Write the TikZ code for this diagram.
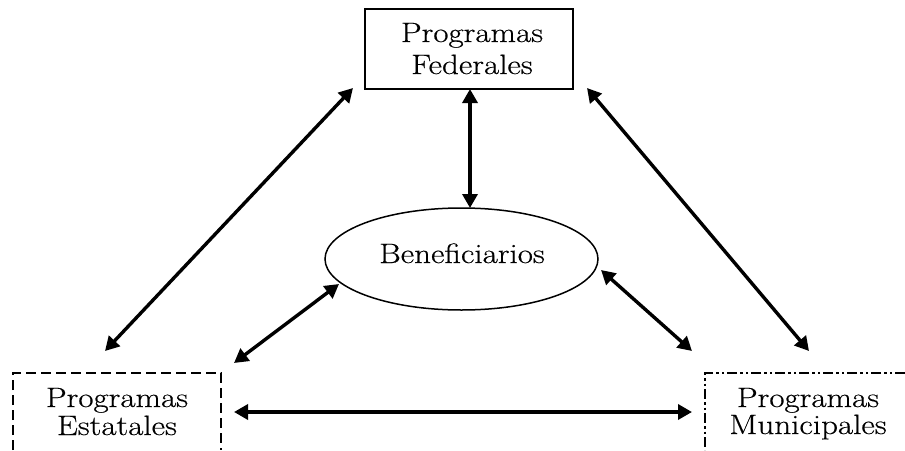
\documentclass[tikz,border=0pt]{standalone}
\usepackage{fontspec}
\setmainfont{Latin Modern Roman}[FakeStretch=1.18,FakeBold=0.4]
\usetikzlibrary{arrows.meta,shapes.geometric}
\begin{document}
\begin{tikzpicture}[x=1pt,y=-1pt,
  lbl/.style={font=\fontsize{28}{30}\selectfont, inner sep=0pt, anchor=base},
  conn/.style={line width=3.4pt, {Triangle[length=14pt,width=15pt]}-{Triangle[length=14pt,width=15pt]}},
  fedbox/.style={draw, line width=1.5pt, minimum width=208pt, minimum height=80pt, inner sep=0pt},
  benell/.style={draw, ellipse, line width=1.5pt, minimum width=273pt, minimum height=102pt, inner sep=0pt},
  estline/.style={line width=2pt, dash pattern=on 10pt off 5pt},
  munline/.style={line width=2pt, dash pattern=on 10pt off 3pt on 2.5pt off 3pt on 2.5pt off 3pt}
]
\useasboundingbox (0,0) rectangle (905,450);
% boxes
\node[fedbox] (fed) at (469,49) {};
\node[benell] (ben) at (461.5,259) {};
\coordinate (estA) at (13,450);
\coordinate (estB) at (13,373);
\coordinate (estC) at (221,373);
\coordinate (estD) at (221,450);
\draw[estline] (estA) -- (estB) -- (estC) -- (estD);
\coordinate (munA) at (905,373);
\coordinate (munB) at (705,373);
\coordinate (munC) at (705,450);
\draw[munline] (munA) -- (munB) -- (munC);
% texts
\node[lbl] (fed1) at (472,42) {Programas};
\node[lbl] (fed2) at (472,74) {Federales};
\node[lbl] (bent) at (462,263) {Beneficiarios};
\node[lbl] (est1) at (117,407) {Programas};
\node[lbl] (est2) at (117,435) {Estatales};
\node[lbl] (mun1) at (808,407) {Programas};
\node[lbl] (mun2) at (808,434) {Municipales};
% connector ends
\coordinate (fedL) at (353,88);
\coordinate (fedM) at (470,89);
\coordinate (fedR) at (587,88);
\coordinate (benT) at (470,208);
\coordinate (benL) at (339,284);
\coordinate (benR) at (601,270);
\coordinate (estT) at (105,351);
\coordinate (estTR) at (234,363);
\coordinate (estR) at (234,412);
\coordinate (munT) at (809,351);
\coordinate (munTL) at (692,351);
\coordinate (munL) at (692,412);
\draw[conn] (fedL) -- (estT);
\draw[conn] (fedM) -- (benT);
\draw[conn] (fedR) -- (munT);
\draw[conn] (benL) -- (estTR);
\draw[conn] (benR) -- (munTL);
\draw[conn] (estR) -- (munL);
\end{tikzpicture}
\end{document}
